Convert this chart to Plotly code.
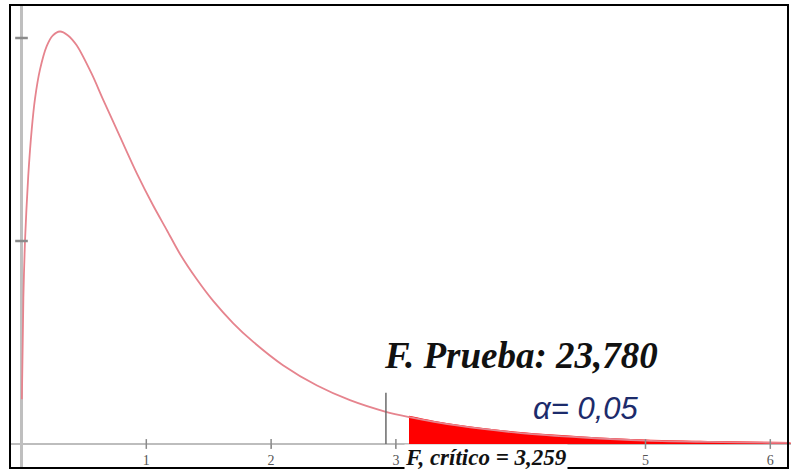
import plotly.graph_objects as go

# F-distribution density curve (x in F units, y in axis units: ticks at 0.5 and 1.0)
curve_x = [0.003, 0.015, 0.028, 0.054, 0.082, 0.108, 0.148, 0.202, 0.25, 0.308, 0.37, 0.442,
           0.562, 0.653, 0.789, 0.925, 1.054, 1.166, 1.270, 1.406, 1.534, 1.695, 1.855,
           2.095, 2.368, 2.632, 2.913, 3.097, 3.5, 4.0, 4.5, 5.0, 5.5, 6.0, 6.16]
curve_y = [0.11, 0.36, 0.50, 0.66, 0.775, 0.85, 0.922, 0.980, 1.006, 1.016, 1.007, 0.982,
           0.912, 0.849, 0.757, 0.666, 0.588, 0.526, 0.468, 0.405, 0.353, 0.298, 0.252,
           0.194, 0.144, 0.108, 0.080, 0.067, 0.045, 0.027, 0.016, 0.0085, 0.0050, 0.0030, 0.0026]

# rejection region (shaded tail)
tail_x = [3.105, 3.3, 3.5, 3.75, 4.0, 4.5, 5.0, 5.5, 6.0, 6.16]
tail_y = [0.067, 0.055, 0.045, 0.035, 0.027, 0.016, 0.0085, 0.0050, 0.0030, 0.0026]

x_tick_vals = [1, 2, 3, 5, 6]
x_tick_text = ["1", "2", "3", "5", "6"]
y_tick_vals = [0.5, 1.0]

marker_line_x = 2.92
marker_line_top = 0.126

title_text = "<b><i>F. Prueba: 23,780</i></b>"
alpha_text = "<i>α= 0,05</i>"
crit_text = "<b><i>F, crítico = 3,259</i></b>"

fig = go.Figure()

fig.add_trace(go.Scatter(x=tail_x, y=tail_y, mode="lines", fill="tozeroy",
                         fillcolor="#ff0000", line=dict(color="#ff0000", width=2, shape="spline"),
                         hoverinfo="skip", showlegend=False))
fig.add_trace(go.Scatter(x=curve_x, y=curve_y, mode="lines",
                         line=dict(color="#e6848e", width=1.8, shape="spline", smoothing=0.8),
                         showlegend=False))
# vertical marker line
fig.add_trace(go.Scatter(x=[marker_line_x, marker_line_x], y=[0, marker_line_top], mode="lines",
                         line=dict(color="#6a6a6a", width=1.5), showlegend=False))
# tick marks crossing the axes
fig.add_trace(go.Scatter(x=x_tick_vals, y=[0] * len(x_tick_vals), mode="markers",
                         marker=dict(symbol="line-ns", size=7, line=dict(color="#8a8a8a", width=1.5)),
                         showlegend=False))
fig.add_trace(go.Scatter(x=[0] * len(y_tick_vals), y=y_tick_vals, mode="markers",
                         marker=dict(symbol="line-ew", size=9, line=dict(color="#8a8a8a", width=2.5)),
                         showlegend=False))

W, H = 791, 473
px0 = 21.5      # pixel of x=0
sx = 124.8      # px per x unit
py0 = 444       # pixel of y=0
sy = 406        # px per y unit

x_left_px = 11
xr0 = -(px0 - x_left_px) / sx
xr1 = xr0 + (W - x_left_px) / sx
y_top_px, y_bot_px = 5, 468
yr0 = (py0 - y_bot_px) / sy
yr1 = (py0 - y_top_px) / sy

fig.update_layout(
    width=W, height=H,
    margin=dict(l=0, r=0, t=0, b=0),
    paper_bgcolor="white", plot_bgcolor="white",
    xaxis=dict(domain=[x_left_px / W, 1], range=[xr0, xr1], anchor="free",
               position=(H - py0) / H, showline=True, linecolor="#bdbdbd", linewidth=2,
               tickvals=x_tick_vals, ticktext=x_tick_text, ticks="outside", ticklen=3,
               tickcolor="#999999", tickfont=dict(family="Liberation Serif", size=14, color="#555555"),
               showgrid=False, zeroline=False, layer="below traces"),
    yaxis=dict(domain=[(H - y_bot_px) / H, (H - y_top_px) / H], range=[yr0, yr1], anchor="free",
               position=(px0 - 1) / W, showline=True, linecolor="#bfbfbf", linewidth=2.5,
               showticklabels=False, ticks="", showgrid=False, zeroline=False, layer="below traces"),
    shapes=[dict(type="rect", xref="paper", yref="paper",
                 x0=10 / W, x1=788 / W, y0=(H - 468) / H, y1=(H - 5) / H,
                 line=dict(color="black", width=2))],
    annotations=[
        dict(x=(382 - px0) / sx, y=(py0 - 355) / sy, text=title_text, showarrow=False,
             xanchor="left", yanchor="middle",
             font=dict(family="Liberation Serif", size=37, color="#111111")),
        dict(x=(531 - px0) / sx, y=(py0 - 408) / sy, text=alpha_text, showarrow=False,
             xanchor="left", yanchor="middle",
             font=dict(family="Liberation Sans", size=31, color="#1c2b6b")),
        dict(x=(404 - px0) / sx, y=(py0 - 457) / sy, text=crit_text, showarrow=False,
             xanchor="left", yanchor="middle", bgcolor="white", borderpad=0,
             font=dict(family="Liberation Serif", size=23, color="#111111")),
    ],
)

fig.write_html("out.html", config={"displayModeBar": False},
               post_script="document.body.style.margin='0';")
